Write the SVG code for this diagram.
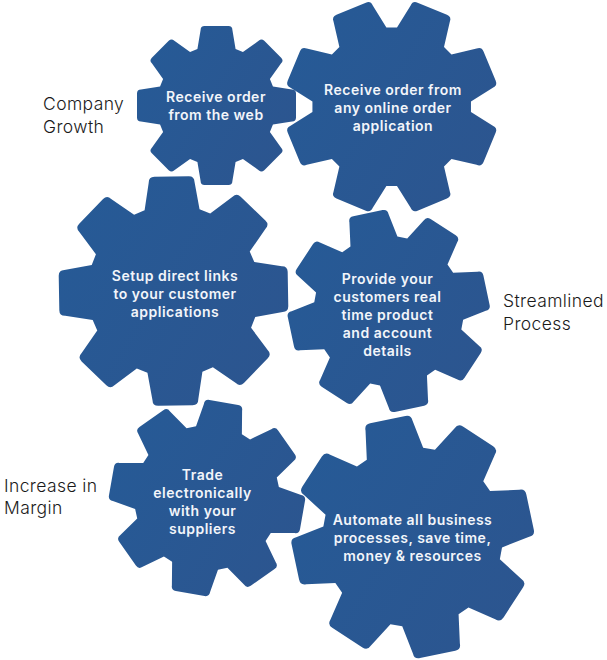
<svg xmlns="http://www.w3.org/2000/svg" xmlns:xlink="http://www.w3.org/1999/xlink" width="607" height="660" viewBox="0 0 607 660">
<style>
.t{font-family:"Inter","Liberation Sans",sans-serif;font-weight:600;font-size:14px;letter-spacing:.5px;fill:#f2f5fa;text-anchor:middle}
.l{font-family:"Inter","Liberation Sans",sans-serif;font-weight:300;font-size:17.5px;letter-spacing:.4px;fill:#1a1a1a}
</style>
<defs>
<path id="gear" d="M71-24L95-20Q100-20 100-15L100 15Q100 20 95 20L71 24L67.18 33.23L81.32 53.03Q84.85 56.57 81.32 60.1L60.1 81.32Q56.57 84.85 53.03 81.32L33.23 67.18L24 71L20 95Q20 100 15 100L-15 100Q-20 100-20 95L-24 71L-33.23 67.18L-53.03 81.32Q-56.57 84.85-60.1 81.32L-81.32 60.1Q-84.85 56.57-81.32 53.03L-67.18 33.23L-71 24L-95 20Q-100 20-100 15L-100-15Q-100-20-95-20L-71-24L-67.18-33.23L-81.32-53.03Q-84.85-56.57-81.32-60.1L-60.1-81.32Q-56.57-84.85-53.03-81.32L-33.23-67.18L-24-71L-20-95Q-20-100-15-100L15-100Q20-100 20-95L24-71L33.23-67.18L53.03-81.32Q56.57-84.85 60.1-81.32L81.32-60.1Q84.85-56.57 81.32-53.03L67.18-33.23Z"/>
<linearGradient id="g0" gradientUnits="userSpaceOnUse" x1="-100" y1="-60" x2="100" y2="60"><stop offset="0" stop-color="#265a96"/><stop offset="1" stop-color="#2c558f"/></linearGradient>
<linearGradient id="g1" xlink:href="#g0" href="#g0" gradientTransform="rotate(-22.5)"/>
<linearGradient id="g2" xlink:href="#g0" href="#g0" gradientTransform="rotate(1)"/>
<linearGradient id="g3" xlink:href="#g0" href="#g0" gradientTransform="rotate(12)"/>
<linearGradient id="g4" xlink:href="#g0" href="#g0" gradientTransform="rotate(-10)"/>
</defs>
<g id="connectors"></g>
<g id="gear-web">
<use href="#gear" fill="url(#g0)" transform="translate(216.5 105.5) scale(.795)"/>
<text class="t" x="216" y="102">Receive order</text><text class="t" x="216" y="120">from the web</text>
</g>
<g id="gear-online">
<use href="#gear" fill="url(#g1)" transform="translate(391.7 106.7) rotate(22.5) scale(1.06)"/>
<text class="t" x="393" y="95">Receive order from</text><text class="t" x="393" y="113">any online order</text><text class="t" x="393" y="131">application</text>
</g>
<g id="gear-links">
<use href="#gear" fill="url(#g2)" transform="translate(173.5 291) rotate(-1) scale(1.145)"/>
<text class="t" x="175" y="281">Setup direct links</text><text class="t" x="175" y="299">to your customer</text><text class="t" x="175" y="317">applications</text>
</g>
<g id="gear-realtime">
<use href="#gear" fill="url(#g3)" transform="translate(388.7 311) rotate(-12) scale(1)"/>
<text class="t" x="387.5" y="284">Provide your</text><text class="t" x="387.5" y="302">customers real</text><text class="t" x="387.5" y="320">time product</text><text class="t" x="387.5" y="338">and account</text><text class="t" x="387.5" y="356">details</text>
</g>
<g id="gear-trade">
<use href="#gear" fill="url(#g4)" transform="translate(207 498) rotate(10) scale(.97)"/>
<text class="t" x="202.5" y="480">Trade</text><text class="t" x="202.5" y="498">electronically</text><text class="t" x="202.5" y="516">with your</text><text class="t" x="202.5" y="534">suppliers</text>
</g>
<g id="gear-automate">
<use href="#gear" fill="url(#g3)" transform="translate(412.7 537) rotate(-12) scale(1.2)"/>
<text class="t" x="412.5" y="525">Automate all business</text><text class="t" x="412.5" y="543">processes, save time,</text><text class="t" x="412.5" y="561">money &amp; resources</text>
</g>
<g id="label-growth"><text class="l" x="43" y="110">Company</text><text class="l" x="43" y="133">Growth</text></g>
<g id="label-process"><text class="l" x="503" y="307">Streamlined</text><text class="l" x="503" y="330">Process</text></g>
<g id="label-margin"><text class="l" x="4" y="492">Increase in</text><text class="l" x="4" y="514">Margin</text></g>
</svg>
